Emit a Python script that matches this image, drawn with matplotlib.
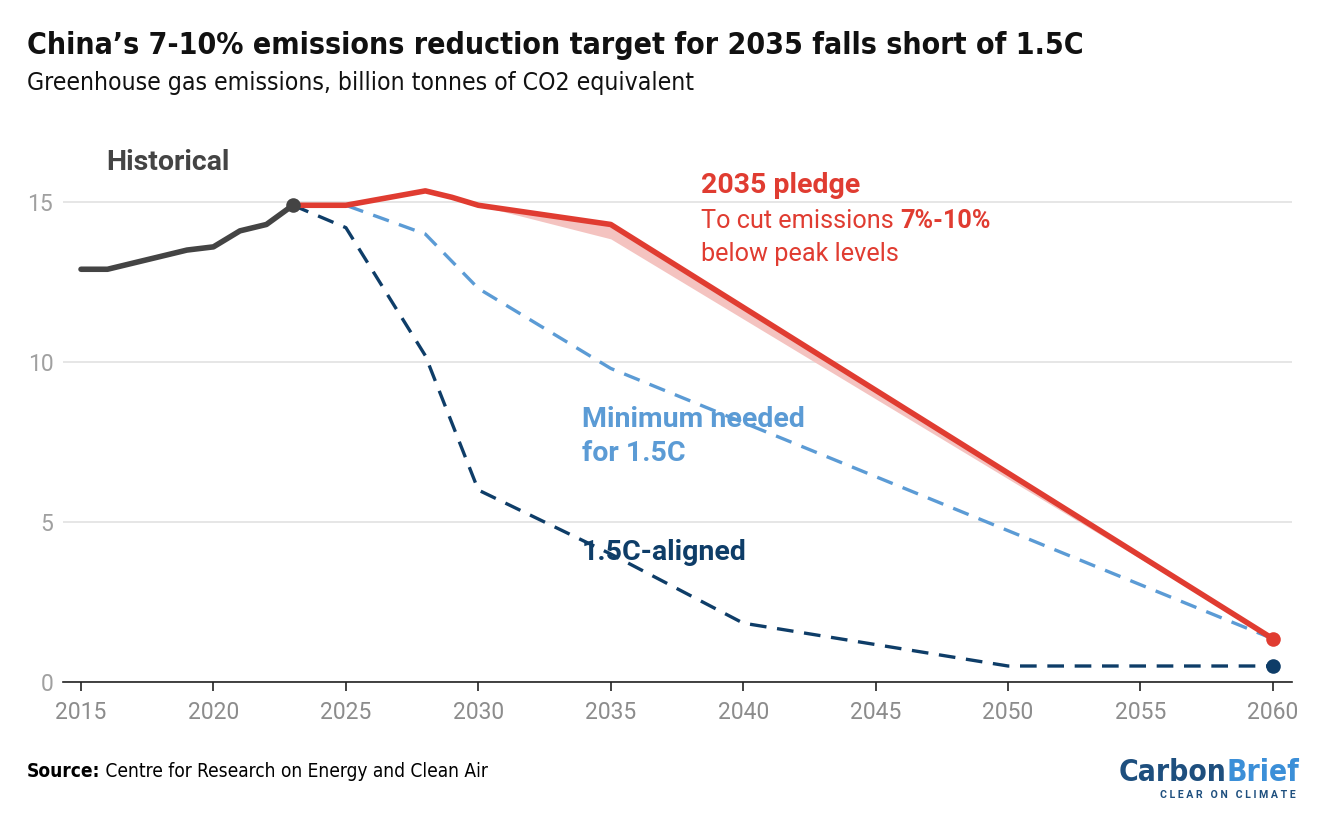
import matplotlib
matplotlib.use('Agg')
import matplotlib.pyplot as plt
import numpy as np

# data (billion tonnes CO2e)
hist_years = [2015, 2016, 2017, 2018, 2019, 2020, 2021, 2022, 2023]
hist_vals = [12.9, 12.9, 13.1, 13.3, 13.5, 13.6, 14.1, 14.3, 14.9]

pledge_years = [2023, 2025, 2028, 2029, 2030, 2035, 2060]
pledge_vals = [14.9, 14.9, 15.35, 15.15, 14.9, 14.3, 1.35]

band_years = [2030, 2035, 2060]
band_upper = [14.9, 14.3, 1.35]
band_lower = [14.9, 13.85, 1.35]

min_years = [2023, 2025, 2028, 2030, 2035, 2060]
min_vals = [14.9, 14.9, 14.0, 12.3, 9.8, 1.35]

aligned_years = [2023, 2025, 2028, 2030, 2035, 2040, 2050, 2060]
aligned_vals = [14.9, 14.2, 10.2, 6.0, 4.0, 1.84, 0.5, 0.5]

x_ticks = list(range(2015, 2061, 5))
y_ticks = [0, 5, 10, 15]

RED = '#E03C31'
PINK = '#F4C3C0'
LIGHT_BLUE = '#5B9BD5'
NAVY = '#0E3D68'
GREY = '#444444'
TICK_GREY = '#8C8C8C'
COND = ['DejaVu Sans']

plt.rcParams['font.family'] = ['Roboto', 'DejaVu Sans']

W, H = 1320, 822
fig = plt.figure(figsize=(W / 100, H / 100), dpi=100)
ax = fig.add_axes([63 / W, 1 - 682 / H, (1292 - 63) / W, (682 - 140) / H])


def fit_width(t, target_px):
    """shrink/grow a text so it spans target_px horizontally"""
    fig.canvas.draw()
    w = t.get_window_extent().width
    t.set_fontsize(t.get_fontsize() * target_px / w)


ax.fill_between(band_years, band_lower, band_upper, color=PINK, linewidth=0, zorder=2)
ax.plot(aligned_years, aligned_vals, color=NAVY, lw=2.4, dashes=(5, 3.2), zorder=3)
ax.plot(min_years, min_vals, color=LIGHT_BLUE, lw=2.4, dashes=(5, 3.2), zorder=3)
ax.plot(pledge_years, pledge_vals, color=RED, lw=4, solid_capstyle='round',
        solid_joinstyle='round', zorder=4)
ax.plot(hist_years, hist_vals, color=GREY, lw=4, solid_capstyle='round',
        solid_joinstyle='round', zorder=5)
ax.scatter([hist_years[-1]], [hist_vals[-1]], s=110, color=GREY, zorder=6, linewidths=0)
ax.scatter([pledge_years[-1]], [pledge_vals[-1]], s=110, color=RED, zorder=6, linewidths=0)
ax.scatter([aligned_years[-1]], [aligned_vals[-1]], s=110, color=NAVY, zorder=6, linewidths=0)

ax.set_xlim(2014.32, 2060.72)
ax.set_ylim(0, 16.94)
ax.set_xticks(x_ticks)
ax.set_yticks(y_ticks)
ax.tick_params(axis='x', labelcolor=TICK_GREY, labelsize=16.5, length=6.5, width=1.2,
               color='#222222', pad=7)
ax.tick_params(axis='y', labelcolor='#A0A0A0', labelsize=16.5, length=0, pad=7)
ax.grid(axis='y', color='#E2E2E2', lw=1.2, zorder=0)
for s in ['top', 'right', 'left']:
    ax.spines[s].set_visible(False)
ax.spines['bottom'].set_color('#222222')
ax.spines['bottom'].set_linewidth(1.2)
ax.set_axisbelow(True)

# annotations
ax.text(2015.95, 16.25, 'Historical', color=GREY, fontsize=20.5, fontweight='bold',
        ha='left', va='center')
ax.text(2038.4, 15.53, '2035 pledge', color=RED, fontsize=20.5, fontweight='bold',
        ha='left', va='center', zorder=7)
t = ax.text(2038.4, 14.4, 'To cut emissions ', color=RED, fontsize=18.2,
            ha='left', va='center', zorder=7)
fig.canvas.draw()
bb = t.get_window_extent().transformed(ax.transData.inverted())
ax.text(bb.x1, 14.4, '7%-10%', color=RED, fontsize=18.2, fontweight='bold',
        ha='left', va='center', zorder=7)
ax.text(2038.4, 13.375, 'below peak levels', color=RED, fontsize=18.2,
        ha='left', va='center', zorder=7)
ax.text(2033.9, 7.67, 'Minimum needed\nfor 1.5C', color=LIGHT_BLUE, fontsize=20.5,
        fontweight='bold', ha='left', va='center', linespacing=1.32, zorder=7)
ax.text(2033.9, 4.06, '1.5C-aligned', color=NAVY, fontsize=20.5, fontweight='bold',
        ha='left', va='center', zorder=7)

# title & subtitle
title = fig.text(27 / W, 1 - 46 / H,
                 'China\u2019s 7-10% emissions reduction target for 2035 falls short of 1.5C',
                 fontsize=25, fontweight='bold', family=COND, fontstretch='condensed',
                 ha='left', va='center', color='#111111')
fit_width(title, 1088 - 27)
sub = fig.text(27 / W, 1 - 83 / H, 'Greenhouse gas emissions, billion tonnes of CO2 equivalent',
               fontsize=17, family=COND, fontstretch='condensed',
               ha='left', va='center', color='#111111')
fit_width(sub, 693 - 27)

# source
src = fig.text(27 / W, 1 - 771 / H, 'Source:', fontsize=13, fontweight='bold',
               family=COND, fontstretch='condensed', ha='left', va='center')
src2 = fig.text(100 / W, 1 - 771 / H, ' Centre for Research on Energy and Clean Air',
                fontsize=13, family=COND, fontstretch='condensed', ha='left', va='center')
fig.canvas.draw()
tot = src2.get_window_extent().x1 - src.get_window_extent().x0
scale = (493 - 27) / tot
src.set_fontsize(13 * scale)
src2.set_fontsize(13 * scale)
fig.canvas.draw()
src2.set_x(src.get_window_extent().x1 / W)

# logo
lg1 = fig.text(1119 / W, 1 - 772 / H, 'Carbon', fontsize=27, fontweight='bold',
               family=COND, fontstretch='condensed', color='#1E4F7E',
               ha='left', va='center')
lg2 = fig.text(1200 / W, 1 - 772 / H, 'Brief', fontsize=27, fontweight='bold',
               family=COND, fontstretch='condensed', color='#3B8FD8',
               ha='left', va='center')
fig.canvas.draw()
tot = lg1.get_window_extent().width + lg2.get_window_extent().width
scale = (1300 - 1119) / tot
lg1.set_fontsize(27 * scale)
lg2.set_fontsize(27 * scale)
fig.canvas.draw()
lg2.set_x(lg1.get_window_extent().x1 / W)
tag = fig.text(1160 / W, 1 - 795 / H, 'C L E A R   O N   C L I M A T E', fontsize=5.5,
               fontweight='bold', color='#1E4F7E', ha='left', va='center')
fit_width(tag, 1295 - 1160)

fig.savefig('out.png', dpi=100)
